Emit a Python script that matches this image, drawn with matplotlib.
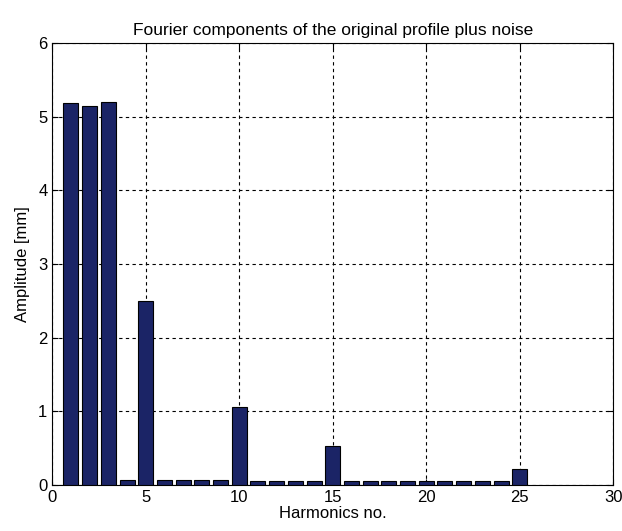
import numpy as np
import matplotlib.pyplot as plt

plt.rcParams['font.family'] = ['Liberation Sans', 'DejaVu Sans']

harmonics = np.arange(1, 26)
amplitude = [5.18, 5.15, 5.20, 0.07, 2.50, 0.07, 0.07, 0.07, 0.07, 1.05,
             0.05, 0.05, 0.05, 0.05, 0.53, 0.05, 0.05, 0.05, 0.05, 0.05,
             0.05, 0.05, 0.05, 0.05, 0.22]

fig = plt.figure(figsize=(6.22, 5.31), dpi=100)
ax = fig.add_axes([0.084, 0.087, 0.902, 0.832])

ax.bar(harmonics, amplitude, width=0.8, color='#1b2466', edgecolor='black', linewidth=0.8, zorder=3)

ax.set_xlim(0, 30)
ax.set_ylim(0, 6)
ax.set_xticks(np.arange(0, 31, 5))
ax.set_yticks(np.arange(0, 7, 1))
ax.grid(True, linestyle=(0, (3, 3)), color='black', linewidth=0.8, zorder=0)
ax.tick_params(direction='in', labelsize=12, length=4, top=True, right=True)

ax.set_title('Fourier components of the original profile plus noise', fontsize=12.5)
ax.set_xlabel('Harmonics no.', fontsize=12, labelpad=1)
ax.set_ylabel('Amplitude [mm]', fontsize=12, labelpad=6)

fig.savefig('out.png', dpi=100)
